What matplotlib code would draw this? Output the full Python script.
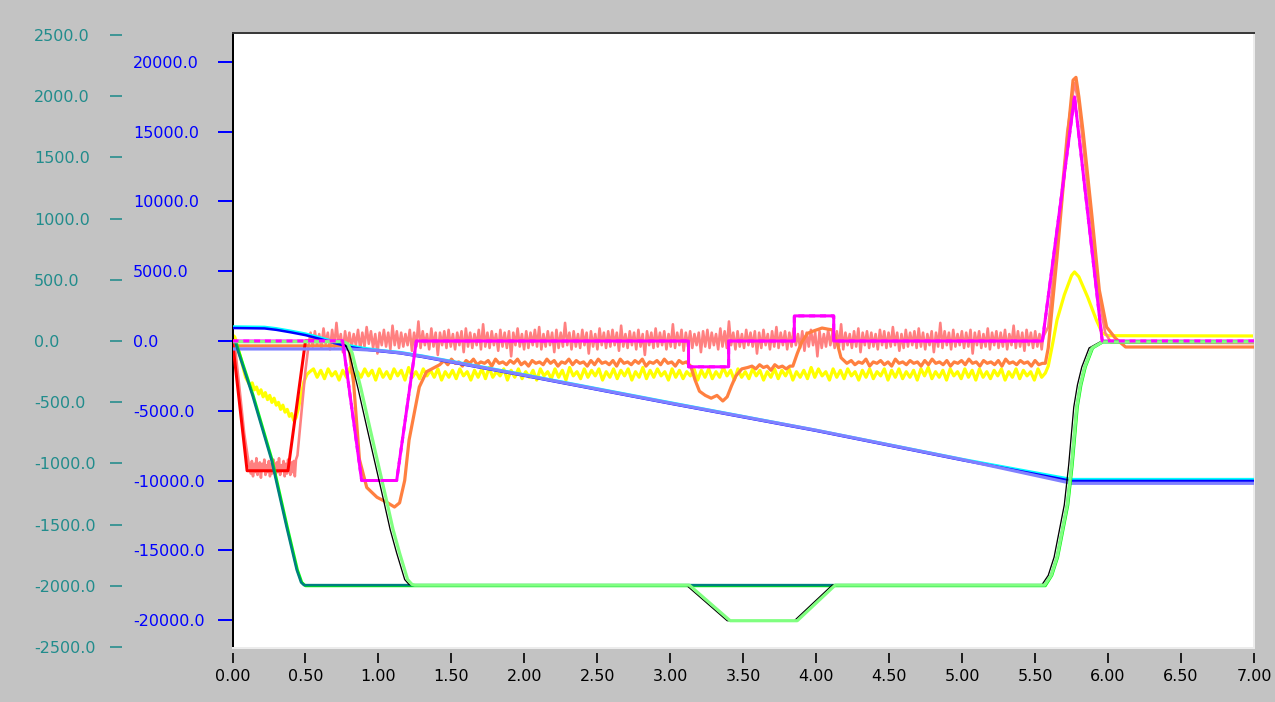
import numpy as np
import matplotlib
matplotlib.use("Agg")
import matplotlib.pyplot as plt

# ---------------- axes / ticks ----------------
x_ticks = [0.0, 0.5, 1.0, 1.5, 2.0, 2.5, 3.0, 3.5, 4.0, 4.5, 5.0, 5.5, 6.0, 6.5, 7.0]
x_tick_labels = ["0.00", "0.50", "1.00", "1.50", "2.00", "2.50", "3.00", "3.50",
                 "4.00", "4.50", "5.00", "5.50", "6.00", "6.50", "7.00"]
blue_ticks = [-20000, -15000, -10000, -5000, 0, 5000, 10000, 15000, 20000]
blue_tick_labels = ["-20000.0", "-15000.0", "-10000.0", "-5000.0", "0.0",
                    "5000.0", "10000.0", "15000.0", "20000.0"]
teal_ticks = [-2500, -2000, -1500, -1000, -500, 0, 500, 1000, 1500, 2000, 2500]
teal_tick_labels = ["-2500.0", "-2000.0", "-1500.0", "-1000.0", "-500.0", "0.0",
                    "500.0", "1000.0", "1500.0", "2000.0", "2500.0"]

# ---------------- series (blue-axis units; *_h lists are in hundreds) ----------------
red_t = [0.0, 0.10, 0.38, 0.50, 0.55]
red_v = [0, -9300, -9300, 0, 0]

salmon_head_t = [0.00, 0.02, 0.05, 0.08, 0.11]
salmon_head_v = [0, -700, -3600, -6600, -8700]
salmon_bottom_span = (0.125, 0.435)
salmon_bottom_h = [-95, -86, -97, -88, -94, -84, -96, -90, -87, -98, -88, -93, -85, -96, -89,
                   -94, -86, -97, -88, -95, -85, -92, -97, -87, -94, -84, -96, -89, -93, -86,
                   -97, -88, -95, -85, -91, -96, -87, -94, -86, -97, -85]
salmon_rise_t = [0.445, 0.46, 0.48, 0.50, 0.52]
salmon_rise_v = [-8200, -6500, -4300, -2100, -400]
salmon_noise_span = (0.535, 5.545)
salmon_noise_h = [
    6, -4, 7, -3, 5, -5, 9, -2, 6, -6, 8, -4, 13, -3, 5, -8, 7, -4, 6, -5,
    5, -3, 8, -6, 6, -4, 10, -2, 7, -5, 5, -9, 6, -3, 8, -4, 6, -6, 11, -3,
    7, -5, 6, -4, 5, -3, 8, -7, 6, -4, 14, -5, 7, -3, 5, -6, 9, -4, 6, -10,
    6, -3, 7, -5, 8, -4, 5, -6, 6, -3, 7, -8, 9, -4, 6, -5, 5, -3, 8, -6,
    12, -4, 6, -5, 7, -3, 5, -7, 8, -4, 6, -5, 7, -11, 6, -3, 9, -4, 5, -6,
    7, -5, 6, -3, 8, -4, 10, -6, 5, -4, 7, -3, 6, -8, 8, -5, 6, -4, 13, -3,
    6, -6, 7, -4, 5, -5, 8, -3, 6, -9, 7, -4, 5, -6, 9, -3, 6, -5, 7, -4,
    8, -3, 6, -7, 11, -4, 5, -5, 7, -3, 6, -6, 8, -4, 5, -10, 7, -3, 6, -5,
    9, -4, 6, -3, 7, -6, 5, -4, 12, -5, 6, -3, 8, -7, 6, -4, 7, -5, 5, -3,
    6, -8, 7, -4, 8, -5, 6, -3, 5, -6, 9, -4, 7, -5, 14, -3, 6, -6, 7, -4,
    5, -5, 8, -3, 6, -4, 7, -9, 6, -5, 8, -3, 5, -6, 7, -4, 10, -5, 6, -3,
    7, -6, 6, -4, 9, -3, 5, -5, 7, -7, 6, -4, 8, -3, 6, -11, 7, -5, 5, -4,
    8, -3, 6, -5, 7, -4, 12, -6, 6, -3, 5, -5, 7, -4, 9, -8, 6, -3, 7, -5,
    6, -4, 5, -6, 8, -3, 7, -5, 6, -4, 10, -3, 6, -7, 5, -5, 8, -4, 6, -3,
    7, -5, 9, -4, 6, -6, 5, -3, 7, -8, 6, -4, 13, -5, 7, -3, 6, -6, 8, -4,
    5, -3, 7, -5, 6, -4, 8, -9, 6, -3, 7, -5, 5, -4, 9, -6, 6, -3, 7, -5,
    6, -4, 8, -6, 5, -3, 11, -5, 7, -4, 6, -7, 8, -3, 6, -5, 7, -4, 5, -6]
salmon_tail_t = [5.555, 5.59, 5.65, 5.72, 5.77, 5.80, 5.83, 5.89, 5.94, 5.98, 6.02, 7.0]
salmon_tail_v = [300, 1000, 7000, 15000, 18500, 17000, 14000, 8000, 3000, 600, -100, -150]

yellow_head_t = [0.0, 0.015, 0.035, 0.055, 0.075, 0.09,
                 0.105, 0.12, 0.135, 0.15, 0.165, 0.18, 0.195, 0.21, 0.225, 0.24, 0.255, 0.27,
                 0.285, 0.30, 0.315, 0.33, 0.345, 0.36, 0.375, 0.39, 0.405, 0.42, 0.435,
                 0.45, 0.47, 0.49, 0.51, 0.53]
yellow_head_v = [430, 300, -400, -1150, -2000, -2600,
                 -2900, -3200, -3000, -3500, -3300, -3800, -3500, -4000, -3700, -4200, -3900, -4400,
                 -4100, -4600, -4400, -4900, -4600, -5100, -4900, -5400, -5200, -5700, -5500,
                 -4900, -3900, -2900, -2400, -2200]
yellow_noise_span = (0.555, 5.57)
yellow_noise_h = [
    -20, -26, -21, -27, -20, -25, -22, -28, -21, -26, -19, -27, -22, -26, -20, -25, -21, -28, -20, -26,
    -22, -27, -20, -25, -21, -28, -19, -26, -22, -27, -20, -25, -21, -26, -20, -28, -22, -26, -21, -27,
    -20, -25, -22, -28, -21, -26, -20, -27, -19, -26, -22, -25, -20, -28, -21, -26, -20, -27, -22, -26,
    -21, -28, -20, -25, -22, -27, -20, -26, -21, -28, -19, -25, -22, -27, -20, -26, -21, -25, -20, -28,
    -22, -26, -20, -27, -21, -25, -20, -28, -22, -26, -19, -27, -21, -26, -20, -25, -22, -28, -20, -26,
    -21, -27, -22, -25, -20, -28, -21, -26, -20, -27, -22, -26, -19, -25, -21, -28, -20, -26, -22, -27,
    -20, -25, -21, -28, -22, -26, -20, -27, -21, -25, -20, -28, -22, -26, -21, -27, -19, -26, -20, -25,
    -22, -28, -20, -26, -21, -27, -20, -25, -22, -28, -21, -26, -20, -27, -22, -25, -20, -28, -21, -26,
    -20, -27, -22, -26, -21, -28, -20, -25, -19, -27, -22, -26, -21, -28, -20, -25, -22, -27, -20, -26,
    -21, -28, -20, -26, -22, -27, -21, -25, -20, -28, -22, -26, -20, -27, -21, -25, -22, -28, -20, -26, -23]
yellow_tail_t = [5.59, 5.62, 5.65, 5.70, 5.75, 5.77, 5.80, 5.86, 5.92, 5.96, 6.00, 7.00]
yellow_tail_v = [-1800, -200, 1500, 3300, 4700, 4950, 4600, 3150, 1500, 570, 380, 360]

orange_head_t = [0.0, 0.78, 0.80, 0.83, 0.87, 0.92, 0.99, 1.055, 1.11, 1.145, 1.18, 1.21,
                 1.25, 1.28, 1.33, 1.42]
orange_head_v = [-350, -350, -700, -3000, -8500, -10500, -11200, -11550, -11900, -11600,
                 -10000, -7100, -4950, -3300, -2200, -1700]
orange_noise1_span = (1.45, 3.11)
orange_noise1_h = [
    -14, -17, -13, -16, -15, -18, -14, -16, -13, -17, -15, -16, -14, -18, -13, -16, -15, -17, -14, -16,
    -13, -17, -15, -18, -14, -16, -15, -17, -13, -16, -14, -18, -15, -16, -13, -17, -14, -16, -15, -18,
    -14, -17, -13, -16, -15, -17, -14, -18, -13, -16, -15, -17, -14, -16, -13, -18, -15, -16, -14, -17,
    -13, -16, -15, -18, -14, -16, -15]
orange_dip_t = [3.14, 3.17, 3.20, 3.24, 3.28, 3.32, 3.36, 3.39, 3.42, 3.45, 3.49, 3.53]
orange_dip_v = [-1800, -2800, -3600, -3900, -4100, -3900, -4300, -4000, -3200, -2500, -2000, -1900]
orange_noise2_span = (3.56, 3.82)
orange_noise2_h = [-18, -20, -17, -19, -18, -21, -17, -19, -18, -20, -18]
orange_bump_t = [3.84, 3.87, 3.90, 3.94, 3.99, 4.04, 4.08, 4.11, 4.14, 4.17, 4.21]
orange_bump_v = [-1800, -900, -100, 550, 750, 930, 850, 800, 0, -1200, -1600]
orange_noise3_span = (4.24, 5.55)
orange_noise3_h = [
    -14, -17, -15, -16, -13, -18, -15, -16, -14, -17, -15, -18, -13, -16, -15, -17, -14, -16, -15, -18,
    -14, -17, -13, -16, -15, -17, -14, -18, -15, -16, -14, -17, -13, -16, -15, -18, -14, -16, -15, -17,
    -14, -18, -13, -16, -15, -17, -14, -16, -15, -18, -14, -17, -16]
orange_tail_t = [5.57, 5.59, 5.65, 5.72, 5.76, 5.78, 5.80, 5.83, 5.89, 5.94, 5.99, 6.05, 6.12, 7.0]
orange_tail_v = [-1600, -500, 6000, 14400, 18700, 18900, 17500, 14900, 8900, 3650, 1000, 200, -430, -430]

magenta_t = [0.0, 0.755, 0.885, 1.125, 1.26, 3.125, 3.125, 3.40, 3.40, 3.85, 3.85, 4.12, 4.12,
             5.55, 5.77, 5.96, 7.0]
magenta_v = [0, 0, -10000, -10000, 0, 0, -1850, -1850, 0, 0, 1800, 1800, 0,
             0, 17500, 0, 0]

purple_t = [0.0, 0.8, 1.0, 1.15, 1.3, 2.0, 3.0, 4.0, 5.0, 5.75, 7.0]
purple_v = [-570, -570, -680, -850, -1100, -2450, -4450, -6400, -8500, -10200, -10200]

blue_t = [0.0, 0.22, 0.30, 0.40, 0.50, 0.60, 0.70, 0.80, 0.90, 1.0, 1.15, 1.3, 2.0, 3.0, 4.0, 5.0, 5.75, 7.0]
blue_v = [930, 900, 800, 620, 420, 150, -150, -420, -600, -720, -880, -1140, -2490, -4490,
          -6440, -8540, -10030, -10030]

cyan_t = [0.0, 0.22, 0.30, 0.40, 0.50, 0.60, 0.70, 0.80, 0.90, 1.0, 1.15, 1.3, 2.0, 3.0, 4.0, 5.0, 5.75, 7.0]
cyan_v = [1040, 1010, 910, 730, 530, 260, -40, -310, -500, -640, -800, -1050, -2400, -4400,
          -6380, -8460, -9900, -9900]

teal_t = [0.0, 0.02, 0.04, 0.137, 0.267, 0.37, 0.44, 0.47, 0.49, 5.565, 5.61, 5.65, 5.68,
          5.72, 5.75, 5.785, 5.81, 5.84, 5.89, 5.96, 7.0]
teal_v = [0, -100, -800, -3900, -8530, -13300, -16400, -17300, -17500, -17500, -16800, -15500,
          -13900, -11750, -8900, -4730, -3150, -1860, -500, -70, -50]

green_t = [0.0, 0.025, 0.045, 0.142, 0.272, 0.375, 0.445, 0.475, 0.50, 5.57, 5.615, 5.655,
           5.685, 5.725, 5.755, 5.79, 5.815, 5.845, 5.895, 5.965, 7.0]
green_v = [0, -100, -800, -3900, -8530, -13300, -16400, -17300, -17550, -17550, -16800, -15500,
           -13900, -11750, -8900, -4730, -3150, -1860, -500, -70, -50]

lightgreen_t = [0.0, 0.76, 0.79, 0.82, 0.88, 0.94, 1.00, 1.055, 1.10, 1.145, 1.20, 1.23, 1.25,
                3.13, 3.41, 3.87, 4.13, 5.565, 5.61, 5.65, 5.68, 5.72, 5.75, 5.785, 5.81,
                5.84, 5.89, 5.96, 7.0]
lightgreen_v = [-50, -50, -200, -860, -3400, -6170, -8900, -11400, -13500, -15200, -17100,
                -17450, -17500, -17500, -20050, -20050, -17500, -17500, -16800, -15500, -13900,
                -11750, -8900, -4730, -3150, -1860, -500, -70, -50]

black_t = [0.0, 0.74, 0.77, 0.80, 0.86, 0.92, 0.98, 1.035, 1.08, 1.125, 1.18, 1.21, 1.235,
           3.11, 3.39, 3.85, 4.11, 5.545, 5.59, 5.63, 5.66, 5.70, 5.73, 5.765, 5.79,
           5.82, 5.87, 5.945, 7.0]
black_v = lightgreen_v


def build(*parts):
    ts, vs = [], []
    for t, v in parts:
        ts.append(np.asarray(t, float))
        vs.append(np.asarray(v, float))
    return np.concatenate(ts), np.concatenate(vs)


def seg(span, hundreds):
    return np.linspace(span[0], span[1], len(hundreds)), np.asarray(hundreds, float) * 100


salmon = build((salmon_head_t, salmon_head_v),
               seg(salmon_bottom_span, salmon_bottom_h),
               (salmon_rise_t, salmon_rise_v),
               seg(salmon_noise_span, salmon_noise_h),
               (salmon_tail_t, salmon_tail_v))
yellow = build((yellow_head_t, yellow_head_v),
               seg(yellow_noise_span, yellow_noise_h),
               (yellow_tail_t, yellow_tail_v))
orange = build((orange_head_t, orange_head_v),
               seg(orange_noise1_span, orange_noise1_h),
               (orange_dip_t, orange_dip_v),
               seg(orange_noise2_span, orange_noise2_h),
               (orange_bump_t, orange_bump_v),
               seg(orange_noise3_span, orange_noise3_h),
               (orange_tail_t, orange_tail_v))

# ---------------- figure ----------------
BG = "#c3c3c3"
TEAL = "#218c8c"
BLUE = "#0000ff"
PX = 0.72  # points per pixel at 100 dpi

fig = plt.figure(figsize=(12.75, 7.02), dpi=100, facecolor=BG)
ax = fig.add_axes([232.5 / 1275, 54 / 702, 1021.5 / 1275, 615 / 702])
ax.set_facecolor("white")
ax.set_xlim(0, 7.0)
ax.set_ylim(-22006, 22078)

ax.plot(*yellow, color="#ffff00", lw=3.2 * PX, zorder=2)
ax.plot(*salmon, color="#ff8080", lw=2.6 * PX, zorder=3)
ax.plot(*orange, color="#ff8040", lw=3.2 * PX, zorder=4)
ax.plot(red_t, red_v, color="#ff0000", lw=3 * PX, zorder=5)
ax.plot(cyan_t, cyan_v, color="#00ffff", lw=2.5 * PX, zorder=6)
ax.plot(blue_t, blue_v, color="#0000ff", lw=2.5 * PX, zorder=7)
ax.plot(purple_t, purple_v, color="#8080ff", lw=3.2 * PX, zorder=8)
ax.plot(magenta_t, magenta_v, color="#ff00ff", lw=3 * PX, zorder=9)
ax.plot(green_t, green_v, color="#00ff00", lw=2.8 * PX, zorder=10)
ax.plot(teal_t, teal_v, color="#008080", lw=2.6 * PX, zorder=11)
ax.plot(black_t, black_v, color="#000000", lw=1.3 * PX, zorder=11.5)
ax.plot(lightgreen_t, lightgreen_v, color="#80ff80", lw=3.2 * PX, zorder=12)
ax.plot(magenta_t, magenta_v, color="#ff00ff", lw=3 * PX, zorder=14,
        linestyle=(0, (2.0, 1.6)))

# frame (sunken look)
ax.spines["left"].set_color("#000000")
ax.spines["left"].set_linewidth(2 * PX)
ax.spines["top"].set_color("#3a3a3a")
ax.spines["top"].set_linewidth(2 * PX)
ax.spines["right"].set_color("#ececec")
ax.spines["right"].set_linewidth(2 * PX)
ax.spines["bottom"].set_color("#ececec")
ax.spines["bottom"].set_linewidth(2 * PX)

# blue (inner) y axis
ax.set_yticks(blue_ticks, blue_tick_labels)
ax.tick_params(axis="y", direction="out", length=15 * PX, width=2 * PX, color=BLUE,
               labelcolor=BLUE, labelsize=11.5, pad=84.5 * PX)
for lab in ax.get_yticklabels():
    lab.set_horizontalalignment("left")

# x axis ticks, offset below the frame
ax.tick_params(axis="x", bottom=False, labelbottom=False)
sec = ax.secondary_xaxis(-5 / 615)
sec.set_xticks(x_ticks, x_tick_labels)
sec.spines["bottom"].set_visible(False)
sec.tick_params(axis="x", direction="out", length=10 * PX, width=2 * PX, color="#202020",
                labelcolor="#000000", labelsize=11.5, pad=4.5)

# teal (outer) y axis
ax2 = ax.twinx()
ax2.set_ylim(-2508, 2516)
for s in ax2.spines.values():
    s.set_visible(False)
ax2.yaxis.tick_left()
ax2.spines["left"].set_position(("outward", 110 * PX))
ax2.set_yticks(teal_ticks, teal_tick_labels)
ax2.tick_params(axis="y", left=True, right=False, labelleft=True, labelright=False,
                direction="out", length=12 * PX, width=1.6 * PX, color=TEAL,
                labelcolor=TEAL, labelsize=11.5, pad=76.5 * PX)
for lab in ax2.get_yticklabels():
    lab.set_horizontalalignment("left")

fig.savefig("out.png", dpi=100, facecolor=BG)
